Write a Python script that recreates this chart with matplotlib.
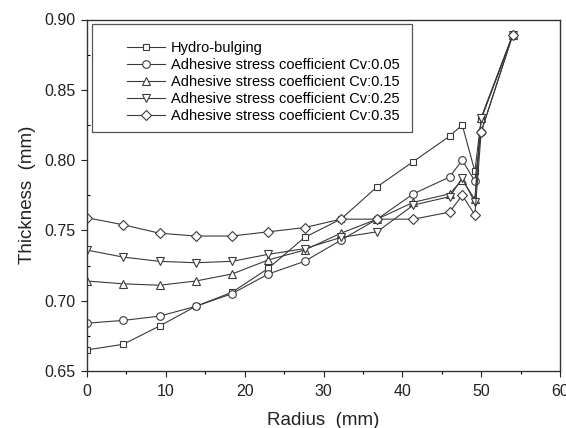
import matplotlib
matplotlib.use("Agg")
import matplotlib.pyplot as plt
from matplotlib.ticker import MultipleLocator, FormatStrFormatter
from matplotlib.patches import Rectangle

plt.rcParams['font.family'] = ['Liberation Sans', 'DejaVu Sans']

radius = [0, 4.6, 9.2, 13.8, 18.4, 23.0, 27.6, 32.2, 36.8, 41.4, 46.0, 47.6, 49.2, 50.0, 54.0]
hydro = [0.665, 0.669, 0.682, 0.696, 0.706, 0.723, 0.745, 0.758, 0.781, 0.799, 0.817, 0.825, 0.792, 0.829, 0.889]
cv005 = [0.684, 0.686, 0.689, 0.696, 0.705, 0.719, 0.728, 0.743, 0.758, 0.776, 0.788, 0.800, 0.785, 0.820, 0.889]
cv015 = [0.714, 0.712, 0.711, 0.714, 0.719, 0.729, 0.736, 0.748, 0.758, 0.770, 0.776, 0.786, 0.772, 0.830, 0.889]
cv025 = [0.736, 0.731, 0.728, 0.727, 0.728, 0.733, 0.737, 0.745, 0.749, 0.768, 0.774, 0.787, 0.770, 0.830, 0.889]
cv035 = [0.759, 0.754, 0.748, 0.746, 0.746, 0.749, 0.752, 0.758, 0.758, 0.758, 0.763, 0.775, 0.761, 0.820, 0.889]

labels = ["Hydro-bulging",
          "Adhesive stress coefficient Cv:0.05",
          "Adhesive stress coefficient Cv:0.15",
          "Adhesive stress coefficient Cv:0.25",
          "Adhesive stress coefficient Cv:0.35"]
series = [hydro, cv005, cv015, cv025, cv035]
markers = ["s", "o", "^", "v", "D"]
msizes = [5, 5.5, 5.5, 5.5, 5]

W, H = 566, 428
AX_L, AX_R, AX_T, AX_B = 87, 560, 19.5, 371
fig = plt.figure(figsize=(W/100, H/100), dpi=100)
ax = fig.add_axes([AX_L/W, 1-AX_B/H, (AX_R-AX_L)/W, (AX_B-AX_T)/H])

def axfrac(px, py):
    return (px-AX_L)/(AX_R-AX_L), 1-(py-AX_T)/(AX_B-AX_T)

for ys, m, lab, ms in zip(series, markers, labels, msizes):
    ax.plot(radius, ys, color="#3a3a3a", lw=0.8, marker=m, ms=ms,
            mfc="white", mec="#3a3a3a", mew=0.8, label=lab)

ax.set_xlim(0, 60)
ax.set_ylim(0.65, 0.90)
ax.xaxis.set_major_locator(MultipleLocator(10))
ax.xaxis.set_minor_locator(MultipleLocator(5))
ax.yaxis.set_major_locator(MultipleLocator(0.05))
ax.yaxis.set_minor_locator(MultipleLocator(0.025))
ax.yaxis.set_major_formatter(FormatStrFormatter('%.2f'))
ax.tick_params(which='major', direction='out', length=4.5, width=0.8, labelsize=11.5,
               colors='#222222')
ax.tick_params(axis='y', which='major', pad=4)
ax.tick_params(axis='x', which='major', pad=5)
ax.tick_params(axis='y', which='minor', direction='in', length=2.5, width=0.8)
ax.tick_params(axis='x', which='minor', direction='out', length=2.5, width=0.8)
for s in ax.spines.values():
    s.set_linewidth(1.0)
    s.set_color('#333333')

ax.set_xlabel("Radius  (mm)", fontsize=13.5, labelpad=9, color='#222222')
ax.set_ylabel("Thickness  (mm)", fontsize=13.5, labelpad=6, color='#222222')

# legend frame
x0, y0 = axfrac(92, 132)
x1, y1 = axfrac(412, 24)
ax.add_patch(Rectangle((x0, y0), x1-x0, y1-y0, transform=ax.transAxes, fill=True,
                       facecolor='white', edgecolor='#555555', lw=0.9, zorder=4))
ax_, ay_ = axfrac(127, 41)
leg = ax.legend(loc='upper left', bbox_to_anchor=(ax_, ay_), fontsize=10.5,
                frameon=False, handlelength=2.6, labelspacing=0.2, borderpad=0,
                handletextpad=0.4, borderaxespad=0)
leg.set_zorder(5)

fig.savefig("out.png", dpi=100)
